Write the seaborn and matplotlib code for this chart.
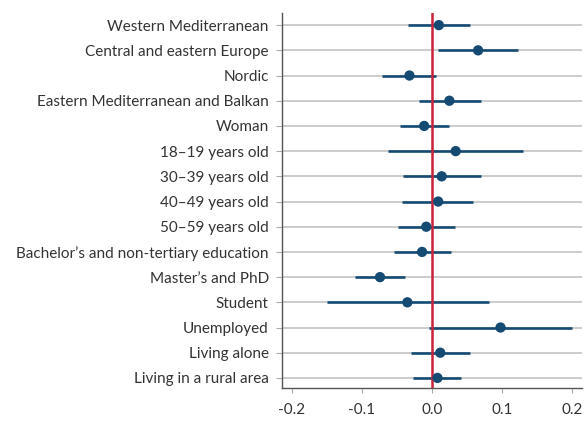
import numpy as np
import pandas as pd
import matplotlib
matplotlib.use('Agg')
import matplotlib.pyplot as plt
import seaborn as sns

# data
labels = ['Western Mediterranean', 'Central and eastern Europe', 'Nordic',
          'Eastern Mediterranean and Balkan', 'Woman', '18\u201319 years old',
          '30\u201339 years old', '40\u201349 years old', '50\u201359 years old',
          'Bachelor\u2019s and non-tertiary education', 'Master\u2019s and PhD',
          'Student', 'Unemployed', 'Living alone', 'Living in a rural area']
estimate = [0.010, 0.066, -0.032, 0.025, -0.011, 0.034, 0.014, 0.009, -0.008,
            -0.014, -0.074, -0.035, 0.098, 0.012, 0.008]
ci_low = [-0.034, 0.009, -0.071, -0.019, -0.045, -0.062, -0.041, -0.042, -0.048,
          -0.054, -0.109, -0.150, -0.004, -0.030, -0.027]
ci_high = [0.055, 0.123, 0.006, 0.070, 0.024, 0.130, 0.070, 0.059, 0.033,
           0.027, -0.039, 0.081, 0.200, 0.054, 0.041]

df = pd.DataFrame({'label': labels, 'est': estimate, 'lo': ci_low, 'hi': ci_high})

sns.set_style('white')
plt.rcParams['font.family'] = ['Lato', 'DejaVu Sans']
plt.rcParams['font.size'] = 11

blue = '#154a73'
red = '#c8233b'

fig = plt.figure(figsize=(5.87, 4.21), dpi=100)
ax = fig.add_axes([0.4804, 0.0784, 0.5111, 0.8906])

# grid lines per row
for i in range(len(df)):
    ax.axhline(i, color='#c4c4c4', lw=1.2, zorder=0)

ax.hlines(df['label'], df['lo'], df['hi'], color=blue, lw=1.9, zorder=2)
ax.axvline(0, color=red, lw=1.8, zorder=3)
sns.scatterplot(data=df, x='est', y='label', color=blue, s=55, edgecolor='none',
                zorder=4, ax=ax, legend=False)

ax.set_xlim(-0.2139, 0.2143)
ax.set_ylim(len(df) - 1 + 0.4, -0.48)
ax.set_xticks([-0.2, -0.1, 0.0, 0.1, 0.2])
ax.set_xticklabels(['-0.2', '-0.1', '0.0', '0.1', '0.2'])
ax.set_xlabel('')
ax.set_ylabel('')
for s in ['top', 'right']:
    ax.spines[s].set_visible(False)
for s in ['left', 'bottom']:
    ax.spines[s].set_color('#555555')
    ax.spines[s].set_linewidth(1)
ax.tick_params(axis='y', length=4.5, width=0.8, color='#aaaaaa',
               labelsize=11, labelcolor='#333333', pad=5, left=True)
ax.tick_params(axis='x', length=3.5, width=0.8, color='#aaaaaa',
               labelsize=11, labelcolor='#333333', pad=7, bottom=True)

fig.savefig('out.png', dpi=100)
